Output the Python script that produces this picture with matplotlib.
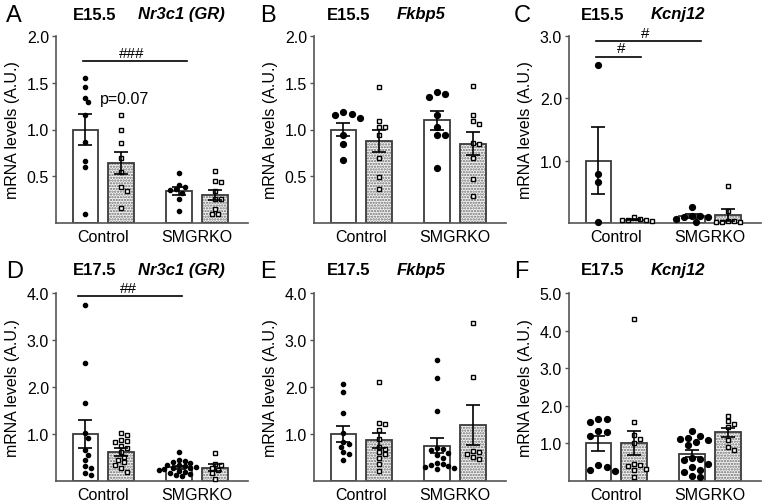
import numpy as np
import matplotlib
matplotlib.use("Agg")
import matplotlib.pyplot as plt

plt.rcParams['font.family'] = ['Liberation Sans', 'DejaVu Sans']
plt.rcParams['hatch.linewidth'] = 1.1

groups = ["Control", "SMGRKO"]

# Panel A: E15.5 Nr3c1 (GR)
A_vals = [
    [1.55, 1.45, 1.34, 1.29, 1.16, 0.87, 0.66, 0.60, 0.10],
    [1.15, 1.00, 0.86, 0.69, 0.55, 0.38, 0.34, 0.16],
    [0.54, 0.41, 0.38, 0.36, 0.35, 0.32, 0.26, 0.13],
    [0.56, 0.45, 0.44, 0.34, 0.26, 0.26, 0.15, 0.10, 0.10],
]
A_mean = [1.00, 0.64, 0.34, 0.30]
A_sem = [0.165, 0.12, 0.045, 0.055]

# Panel B: E15.5 Fkbp5
B_vals = [
    [1.19, 1.17, 1.15, 1.12, 0.94, 0.84, 0.67],
    [1.45, 1.09, 1.03, 1.03, 0.94, 0.69, 0.49, 0.36],
    [1.40, 1.38, 1.35, 1.16, 1.03, 0.94, 0.94, 0.59],
    [1.46, 1.15, 1.09, 1.06, 0.86, 0.84, 0.69, 0.47, 0.29],
]
B_mean = [1.00, 0.88, 1.10, 0.85]
B_sem = [0.07, 0.12, 0.10, 0.12]

# Panel C: E15.5 Kcnj12
C_vals = [
    [2.54, 0.78, 0.66, 0.02],
    [0.10, 0.06, 0.05, 0.05, 0.04, 0.05],
    [0.25, 0.12, 0.11, 0.10, 0.10, 0.07, 0.02],
    [0.60, 0.20, 0.04, 0.03, 0.02, 0.02, 0.02],
]
C_mean = [1.00, 0.055, 0.11, 0.13]
C_sem = [0.54, 0.01, 0.03, 0.09]

# Panel D: E17.5 Nr3c1 (GR)
D_vals = [
    [3.75, 2.52, 1.65, 1.02, 0.92, 0.65, 0.55, 0.44, 0.32, 0.28, 0.16, 0.12],
    [1.02, 0.98, 0.88, 0.85, 0.82, 0.75, 0.70, 0.62, 0.52, 0.45, 0.40, 0.35, 0.28, 0.20],
    [0.62, 0.45, 0.42, 0.40, 0.38, 0.35, 0.33, 0.31, 0.30, 0.28, 0.27, 0.25, 0.24,
     0.22, 0.20, 0.18, 0.15, 0.12, 0.10],
    [0.60, 0.37, 0.33, 0.28, 0.23, 0.16, 0.05],
]
D_mean = [1.00, 0.62, 0.29, 0.285]
D_sem = [0.29, 0.08, 0.03, 0.07]

# Panel E: E17.5 Fkbp5
E_vals = [
    [2.06, 1.89, 1.44, 1.02, 0.82, 0.78, 0.73, 0.62, 0.57, 0.44],
    [2.10, 1.24, 1.21, 1.08, 0.90, 0.73, 0.69, 0.62, 0.57, 0.48, 0.37, 0.21],
    [2.58, 2.19, 1.48, 0.70, 0.68, 0.65, 0.60, 0.55, 0.50, 0.38, 0.36, 0.34, 0.32,
     0.30, 0.28, 0.26],
    [3.37, 2.21, 0.64, 0.62, 0.58, 0.51, 0.46],
]
E_mean = [1.00, 0.87, 0.75, 1.19]
E_sem = [0.17, 0.16, 0.16, 0.43]

# Panel F: E17.5 Kcnj12
F_vals = [
    [1.66, 1.65, 1.58, 1.32, 1.30, 1.20, 0.42, 0.38, 0.28, 0.27],
    [4.31, 1.56, 1.22, 1.13, 1.00, 0.46, 0.42, 0.40, 0.33, 0.28, 0.11],
    [1.32, 1.20, 1.15, 1.12, 1.10, 1.05, 0.95, 0.62, 0.58, 0.55, 0.45, 0.38, 0.30,
     0.25, 0.12, 0.10],
    [1.73, 1.59, 1.51, 1.44, 1.10, 0.91, 0.82],
]
F_mean = [1.00, 1.01, 0.73, 1.29]
F_sem = [0.19, 0.32, 0.09, 0.13]

letters = ["A", "B", "C", "D", "E", "F"]
stages = ["E15.5", "E15.5", "E15.5", "E17.5", "E17.5", "E17.5"]
genes = ["Nr3c1 (GR)", "Fkbp5", "Kcnj12", "Nr3c1 (GR)", "Fkbp5", "Kcnj12"]
ymaxes = [2.0, 2.0, 3.0, 4.0, 4.0, 5.0]
yticks = [[0.5, 1.0, 1.5, 2.0], [0.5, 1.0, 1.5, 2.0], [1.0, 2.0, 3.0],
          [1.0, 2.0, 3.0, 4.0], [1.0, 2.0, 3.0, 4.0], [1.0, 2.0, 3.0, 4.0, 5.0]]

panels = [
    (A_vals, A_mean, A_sem), (B_vals, B_mean, B_sem), (C_vals, C_mean, C_sem),
    (D_vals, D_mean, D_sem), (E_vals, E_mean, E_sem), (F_vals, F_mean, F_sem),
]

W, H = 762, 502
fig = plt.figure(figsize=(W / 100, H / 100), dpi=100)

col_left = [56, 314, 569]
row_top = [37, 294]
row_bot = [224, 482]
ax_w = 192

pos = [0.0, 1.0, 2.63, 3.65]
bar_w = 0.73
xl = (-0.83, 4.58)
px_per_x = ax_w / (xl[1] - xl[0])

dot_ms = [3.0, 4.2, 4.2, 3.0, 3.0, 4.2]
sq_ms = [3.0, 3.2, 3.2, 3.0, 3.0, 3.2]

edge = '#3a3a3a'


def swarm(vals, ms_pt, ypx):
    d = ms_pt * 100 / 72 * 1.15
    placed = []
    xs = np.zeros(len(vals))
    order = np.argsort(-np.asarray(vals))
    for i in order:
        y = vals[i] * ypx
        best = None
        for k in range(0, 9):
            for sgn in ([0] if k == 0 else [1, -1]):
                off = sgn * k * d * 0.6
                ok = all((off - px) ** 2 + (y - py) ** 2 >= d * d for px, py in placed)
                if ok:
                    best = off
                    break
            if best is not None:
                break
        if best is None:
            best = 0.0
        placed.append((best, y))
        xs[i] = best / px_per_x
    return xs


axes = []
for p in range(6):
    r, c = divmod(p, 3)
    left = col_left[c]
    top, bot = row_top[r], row_bot[r]
    ax = fig.add_axes([left / W, 1 - bot / H, ax_w / W, (bot - top) / H])
    axes.append(ax)
    vals, means, sems = panels[p]
    ymax = ymaxes[p]
    ypx = (bot - top) / ymax
    for g in range(4):
        if g % 2 == 1:
            ax.bar(pos[g], means[g], width=bar_w, facecolor='#f4f4f4', edgecolor='#6e6e6e',
                   hatch='......', linewidth=0, zorder=1)
            ax.bar(pos[g], means[g], width=bar_w, fill=False, edgecolor=edge,
                   linewidth=1.3, zorder=2)
        else:
            ax.bar(pos[g], means[g], width=bar_w, facecolor='white', edgecolor=edge,
                   linewidth=1.3, zorder=2)
        ms = dot_ms[p] if g % 2 == 0 else sq_ms[p]
        xs = pos[g] + swarm(vals[g], ms, ypx)
        if g % 2 == 0:
            ax.plot(xs, vals[g], 'o', color='black', ms=ms, zorder=3, clip_on=False)
        else:
            ax.plot(xs, vals[g], 's', mfc='white', mec='black', mew=1.0, ms=ms,
                    zorder=3, clip_on=False)
        ax.errorbar(pos[g], means[g], yerr=sems[g], color='black', lw=1.2,
                    capsize=5, capthick=1.2, zorder=4)
    ax.set_xlim(*xl)
    ax.set_ylim(0, ymax)
    ax.set_yticks(yticks[p])
    ax.set_yticklabels([f"{t:.1f}" for t in yticks[p]])
    ax.set_xticks([(pos[0] + pos[1]) / 2, (pos[2] + pos[3]) / 2])
    ax.set_xticklabels(groups)
    ax.tick_params(axis='x', length=0, pad=4, labelsize=11.5)
    ax.tick_params(axis='y', length=3, width=1.0, color='#555555', pad=2, labelsize=11.5)
    for s in ['top', 'right']:
        ax.spines[s].set_visible(False)
    for s in ['left', 'bottom']:
        ax.spines[s].set_color('#555555')
        ax.spines[s].set_linewidth(1.2)
    ax.set_ylabel("mRNA levels (A.U.)", fontsize=11.5)
    ax.yaxis.set_label_coords(-36 / ax_w, 0.5)

    # titles and letters
    base_x = [0, 254, 508][c]
    ty = [15, 271][r]
    fig.text((base_x + 6) / W, 1 - (ty + 1) / H, letters[p], fontsize=17,
             ha='left', va='center')
    fig.text((base_x + 73) / W, 1 - ty / H, stages[p], fontsize=12,
             fontweight='bold', ha='left', va='center')
    gx = 138 if c == 0 else 143
    fig.text((base_x + gx) / W, 1 - ty / H, genes[p], fontsize=12,
             fontweight='bold', fontstyle='italic', ha='left', va='center')

# significance annotations
axA, axC, axD = axes[0], axes[2], axes[3]
axA.plot([-0.07, 2.86], [1.73, 1.73], color='black', lw=1.2, clip_on=False)
axA.text(1.31, 1.74, "###", ha='center', va='bottom', fontsize=11)
axA.text(1.11, 1.33, "p=0.07", ha='center', va='center', fontsize=11.5)

axC.plot([-0.06, 2.88], [2.92, 2.92], color='black', lw=1.2, clip_on=False)
axC.text(1.33, 2.94, "#", ha='center', va='bottom', fontsize=11)
axC.plot([-0.06, 1.21], [2.67, 2.67], color='black', lw=1.2, clip_on=False)
axC.text(0.65, 2.69, "#", ha='center', va='bottom', fontsize=11)

axD.plot([-0.2, 2.71], [3.93, 3.93], color='black', lw=1.2, clip_on=False)
axD.text(1.2, 3.95, "##", ha='center', va='bottom', fontsize=11)

fig.savefig("out.png", dpi=100)
